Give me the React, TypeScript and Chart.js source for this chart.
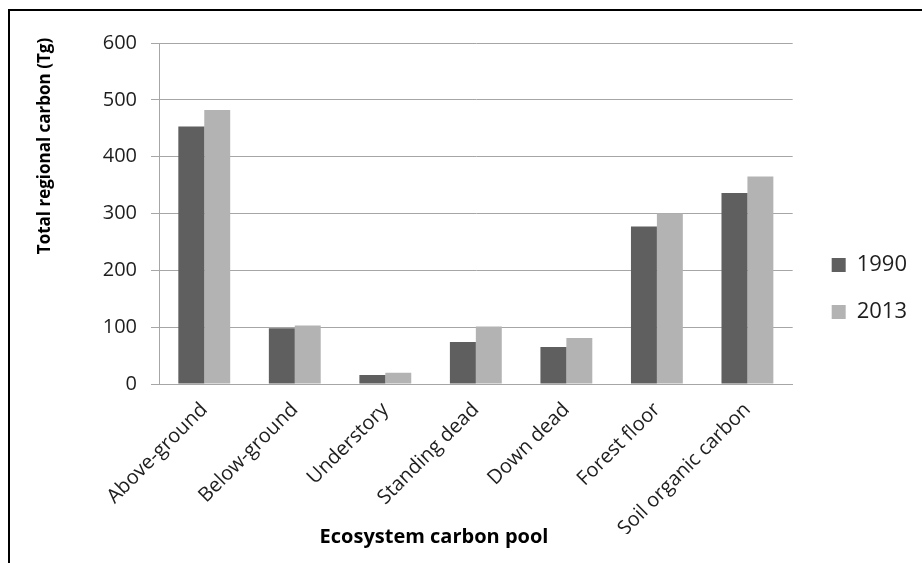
import React, { useEffect, useRef } from "react";
import { Chart, registerables } from "chart.js";

Chart.register(...registerables);

const categories = [
  "Above-ground",
  "Below-ground",
  "Understory",
  "Standing dead",
  "Down dead",
  "Forest floor",
  "Soil organic carbon",
];
const values1990 = [453, 98, 16, 74, 65, 277, 336];
const values2013 = [482, 103, 20, 101, 81, 300, 365];
const seriesLabels = ["1990", "2013"];
const yMin = 0;
const yMax = 600;
const yStep = 100;
const yTitle = "Total regional carbon (Tg)";
const xTitle = "Ecosystem carbon pool";

const FONT = "'Open Sans', 'Noto Sans', sans-serif";
const GRID = "#a6a6a6";
const TEXT = "#1e1e1e";

const framePlugin = {
  id: "frame",
  beforeDraw(chart: any) {
    const ctx = chart.ctx;
    ctx.save();
    ctx.fillStyle = "#fff";
    ctx.fillRect(0, 0, chart.width, chart.height);
    ctx.fillStyle = "#000";
    ctx.fillRect(8, 9, chart.width - 8, 2);
    ctx.fillRect(8, 9, 2, chart.height - 9);
    ctx.restore();
  },
};

const titlesPlugin = {
  id: "axisTitles",
  afterDraw(chart: any) {
    const ctx = chart.ctx;
    ctx.save();
    ctx.fillStyle = "#000";
    ctx.font = `bold 17px ${FONT}`;
    ctx.textAlign = "center";
    ctx.textBaseline = "middle";
    ctx.translate(45, 146);
    ctx.rotate(-Math.PI / 2);
    ctx.fillText(yTitle, 0, 0);
    ctx.restore();
    ctx.save();
    ctx.fillStyle = "#000";
    ctx.font = `bold 20px ${FONT}`;
    ctx.textAlign = "center";
    ctx.textBaseline = "middle";
    ctx.fillText(xTitle, 434, 537);
    ctx.restore();
  },
};

export default function App() {
  const ref = useRef<HTMLCanvasElement | null>(null);
  useEffect(() => {
    if (!ref.current) return;
    const chart = new Chart(ref.current, {
      type: "bar",
      data: {
        labels: categories,
        datasets: [
          {
            label: seriesLabels[0],
            data: values1990,
            backgroundColor: "#5f5f5f",
            borderWidth: 0,
            categoryPercentage: 0.573,
            barPercentage: 1,
          },
          {
            label: seriesLabels[1],
            data: values2013,
            backgroundColor: "#b3b3b3",
            borderWidth: 0,
            categoryPercentage: 0.573,
            barPercentage: 1,
          },
        ],
      },
      options: {
        responsive: false,
        animation: false,
        layout: { padding: { top: 43, bottom: 29, left: 0, right: 5 } },
        plugins: {
          tooltip: { enabled: false },
          legend: {
            position: "right",
            labels: {
              boxWidth: 14,
              boxHeight: 14,
              padding: 25,
              color: TEXT,
              font: { family: FONT, size: 22 },
            },
          },
        },
        scales: {
          x: {
            grid: { display: false },
            border: { display: true, color: GRID },
            ticks: {
              autoSkip: false,
              maxRotation: 45,
              minRotation: 45,
              padding: 6,
              color: TEXT,
              font: { family: FONT, size: 20 },
            },
            afterFit: (s: any) => {
              s.height = 150;
            },
          },
          y: {
            min: yMin,
            max: yMax,
            ticks: {
              stepSize: yStep,
              padding: 14,
              color: TEXT,
              font: { family: FONT, size: 20 },
            },
            grid: { color: GRID, tickColor: GRID, tickLength: 8, lineWidth: 1 },
            border: { display: true, color: GRID },
            afterFit: (s: any) => {
              s.width = 159;
            },
          },
          pad: {
            type: "linear",
            position: "right",
            display: true,
            grid: { display: false },
            border: { display: false },
            ticks: { display: false },
            afterFit: (s: any) => {
              s.width = 14;
            },
          },
        },
      },
      plugins: [framePlugin, titlesPlugin],
    });
    return () => chart.destroy();
  }, []);
  return (
    <div style={{ position: "fixed", left: 0, top: 0, width: 922, height: 563, background: "#fff" }}>
      <canvas ref={ref} width={922} height={563} style={{ position: "absolute", left: 0, top: 0 }} />
    </div>
  );
}
